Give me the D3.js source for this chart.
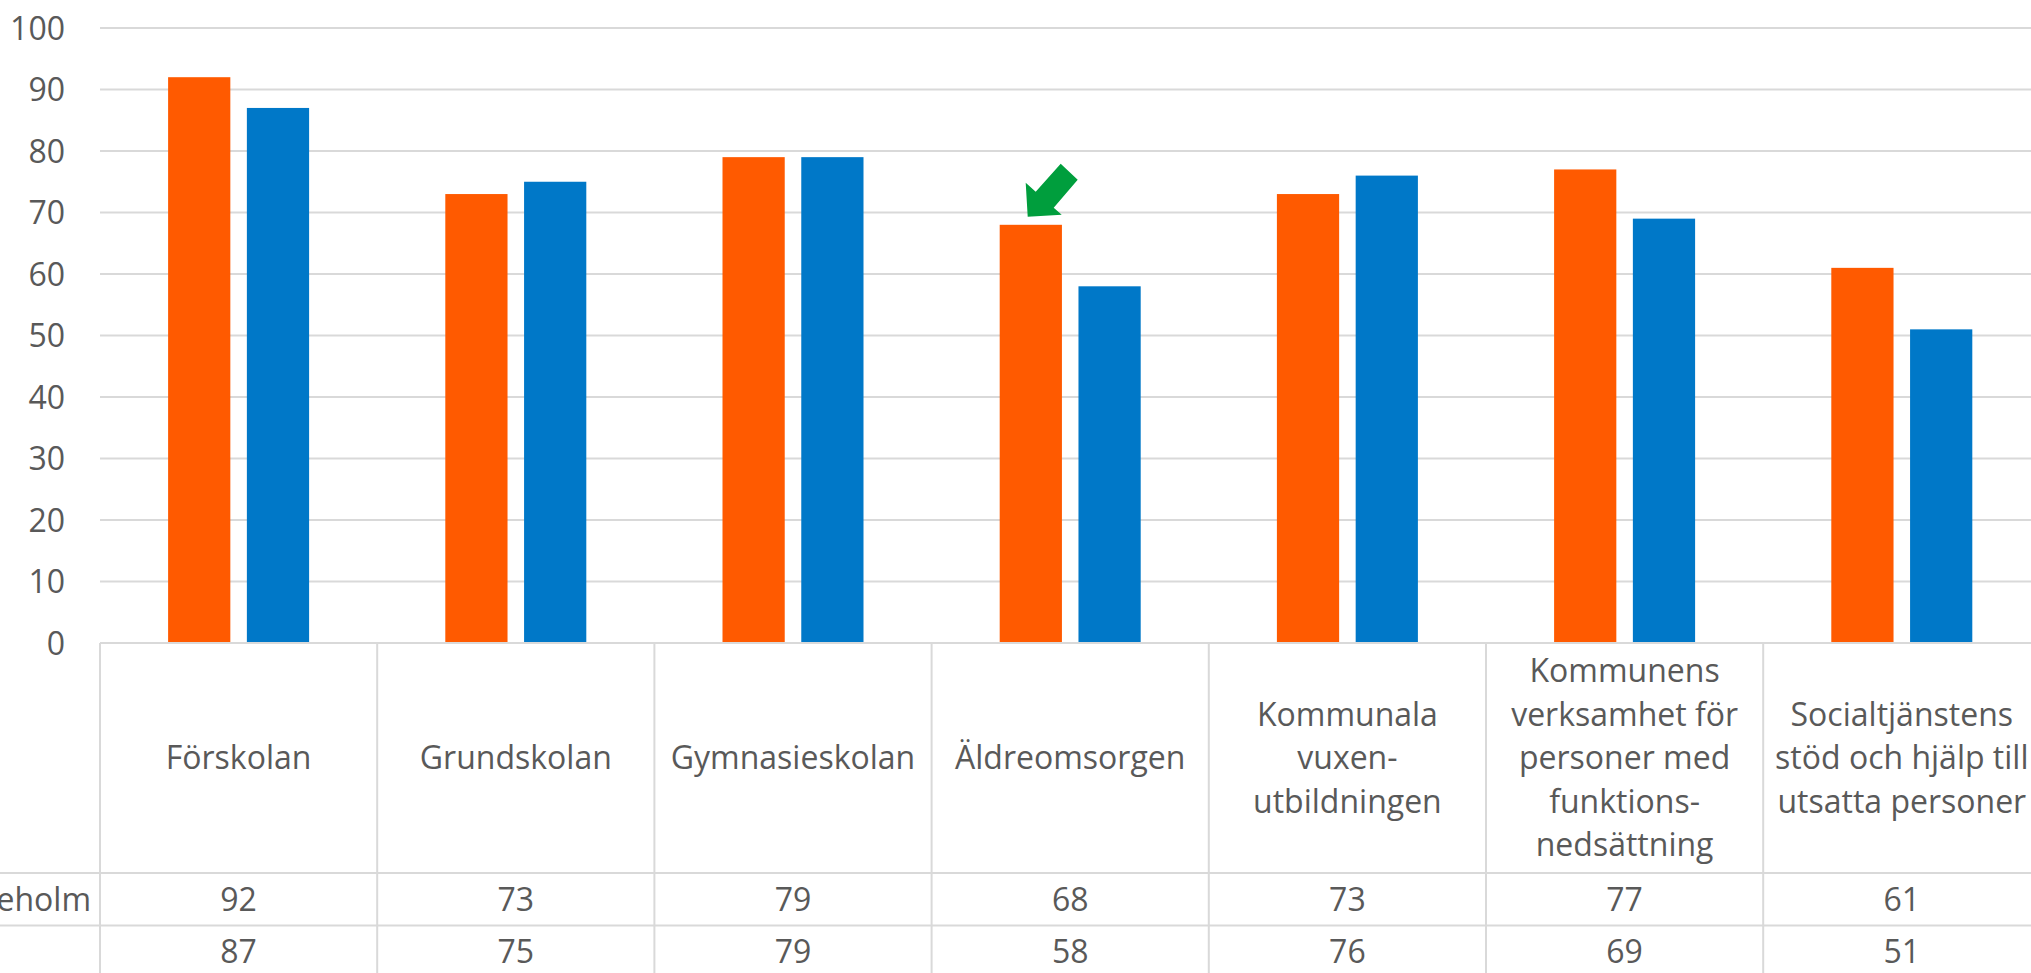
<!DOCTYPE html>
<html>
<head>
<meta charset="utf-8">
<script src="https://cdn.jsdelivr.net/npm/d3@7"></script>
<style>
  html, body { margin: 0; padding: 0; background: #fff; overflow: hidden; }
  svg { display: block; font-family: "Open Sans", sans-serif; }
</style>
</head>
<body>
<svg id="chart" width="2031" height="973"></svg>
<script>
// ---- data ----
const categories = [
  ["Förskolan"],
  ["Grundskolan"],
  ["Gymnasieskolan"],
  ["Äldreomsorgen"],
  ["Kommunala", "vuxen-", "utbildningen"],
  ["Kommunens", "verksamhet för", "personer med", "funktions-", "nedsättning"],
  ["Socialtjänstens", "stöd och hjälp till", "utsatta personer"]
];
const seriesNames = ["Hässleholm", ""];
const seriesA = [92, 73, 79, 68, 73, 77, 61];
const seriesB = [87, 75, 79, 58, 76, 69, 51];
const yTicks = [0, 10, 20, 30, 40, 50, 60, 70, 80, 90, 100];
const highlightIndex = 3;

// ---- layout ----
const colors = ["#FF5A00", "#0078C8"];
const textColor = "#595959";
const lineColor = "#D9D9D9";
const plotLeft = 100, plotTop = 28, zeroY = 643;
const catW = 277.2;
const rowH = 52.6;
const fontSize = 32;
const lineH = 43.4;

const svg = d3.select("#chart");
const catIdx = categories.map((d, i) => i);

const x0 = d3.scaleBand().domain(catIdx).range([plotLeft, plotLeft + catW * categories.length]).padding(0);
const x1 = d3.scaleBand().domain([0, 1]).range([catW / 2 - 70.5, catW / 2 + 70.5]).paddingInner(0.21);
const y = d3.scaleLinear().domain([0, 100]).range([zeroY, plotTop]);

// gridlines
svg.append("g").selectAll("line").data(yTicks.filter(t => t > 0)).join("line")
  .attr("x1", plotLeft).attr("x2", 2031)
  .attr("y1", d => y(d)).attr("y2", d => y(d))
  .attr("stroke", lineColor).attr("stroke-width", 2);

// y axis labels
const yAxis = d3.axisLeft(y).tickValues(yTicks).tickSize(0).tickPadding(0);
const ga = svg.append("g").attr("transform", `translate(65,0)`).call(yAxis);
ga.select(".domain").remove();
ga.selectAll("text").attr("fill", textColor).style("font-size", fontSize + "px")
  .style("font-family", "'Open Sans', sans-serif").attr("dy", "0.35em");

// bars
const series = [seriesA, seriesB];
const gBars = svg.append("g");
series.forEach((vals, s) => {
  gBars.selectAll(".b" + s).data(vals).join("rect")
    .attr("class", "b" + s)
    .attr("x", (d, i) => x0(i) + x1(s))
    .attr("width", x1.bandwidth())
    .attr("y", d => y(d))
    .attr("height", d => y(0) - y(d))
    .attr("fill", colors[s]);
});

// table
const tableBottom = 1000;
const gT = svg.append("g");
gT.append("line").attr("x1", plotLeft).attr("x2", 2040).attr("y1", zeroY).attr("y2", zeroY)
  .attr("stroke", lineColor).attr("stroke-width", 2);
const labelRowBottom = 873;
[labelRowBottom, labelRowBottom + rowH].forEach(yy => {
  gT.append("line").attr("x1", 0).attr("x2", 2040).attr("y1", yy).attr("y2", yy)
    .attr("stroke", lineColor).attr("stroke-width", 2);
});
gT.selectAll(".v").data(d3.range(categories.length + 1)).join("line")
  .attr("class", "v")
  .attr("x1", d => plotLeft + d * catW).attr("x2", d => plotLeft + d * catW)
  .attr("y1", zeroY).attr("y2", tableBottom)
  .attr("stroke", lineColor).attr("stroke-width", 2);

// category labels
const labelCenterY = (zeroY + labelRowBottom) / 2;
const gL = gT.selectAll(".cat").data(categories).join("text")
  .attr("class", "cat")
  .attr("text-anchor", "middle").attr("fill", textColor)
  .style("font-size", fontSize + "px");
gL.each(function(lines, i) {
  const t = d3.select(this);
  const cx = x0(i) + catW / 2;
  const startY = labelCenterY - (lines.length - 1) * lineH / 2;
  lines.forEach((ln, k) => {
    t.append("tspan").attr("x", cx).attr("y", startY + k * lineH).attr("dy", "0.35em").text(ln);
  });
});

// value rows
series.forEach((vals, s) => {
  const cy = labelRowBottom + rowH * s + rowH / 2;
  gT.selectAll(".val" + s).data(vals).join("text")
    .attr("class", "val" + s)
    .attr("x", (d, i) => x0(i) + catW / 2)
    .attr("y", cy).attr("dy", "0.35em")
    .attr("text-anchor", "middle").attr("fill", textColor)
    .style("font-size", fontSize + "px")
    .text(d => d);
  if (seriesNames[s]) {
    gT.append("text").attr("x", 91).attr("y", cy).attr("dy", "0.35em")
      .attr("text-anchor", "end").attr("fill", textColor)
      .style("font-size", fontSize + "px").text(seriesNames[s]);
  }
});

// green arrow annotation pointing at highlighted bar
const bx = x0(highlightIndex) + x1(0);
const by = y(seriesA[highlightIndex]);
const arrowPts = [
  [28, -8], [26, -42], [36, -33], [61, -61], [78, -45], [54, -17], [62, -10]
];
svg.append("polygon")
  .attr("points", arrowPts.map(p => [bx + p[0], by + p[1]].join(",")).join(" "))
  .attr("fill", "#009E3D");
</script>
</body>
</html>
